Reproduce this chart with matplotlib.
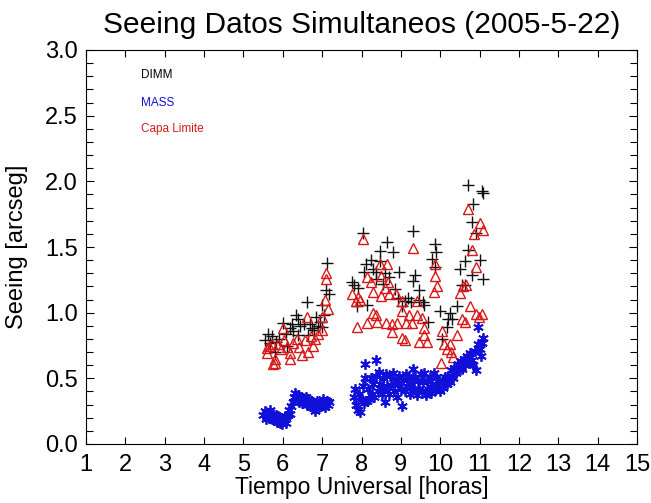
import matplotlib
matplotlib.use("Agg")
import matplotlib.pyplot as plt
from matplotlib.ticker import MultipleLocator

plt.rcParams['font.family'] = ['Liberation Sans', 'DejaVu Sans']

# DIMM seeing (black +)
dimm_t = [5.55, 5.62, 5.68, 5.72, 5.80, 5.83, 5.90, 6.01, 6.07, 6.10, 6.18, 6.23,
          6.27, 6.33, 6.38, 6.39, 6.45, 6.55, 6.61, 6.65, 6.69, 6.75, 6.80, 6.84,
          6.90, 6.95, 6.99, 6.99, 7.05, 7.09, 7.13, 7.18,
          7.75, 7.82, 7.88, 7.90, 8.05, 8.06, 8.11, 8.13, 8.23, 8.30, 8.38, 8.38,
          8.47, 8.47, 8.55, 8.60, 8.64, 8.69, 8.79, 8.85, 8.93, 8.96, 9.02, 9.10,
          9.18, 9.25, 9.30, 9.32, 9.36, 9.47, 9.45, 9.55, 9.60, 9.70, 9.78, 9.87,
          9.87, 9.89, 9.99, 10.04, 10.16, 10.20, 10.24, 10.30, 10.42, 10.50, 10.55,
          10.63, 10.63, 10.71, 10.71, 10.80, 10.82, 10.84, 10.92, 11.01, 11.05,
          11.09, 11.09]
dimm_v = [0.79, 0.84, 0.77, 0.82, 0.70, 0.78, 0.80, 0.92, 0.84, 0.75, 0.88, 0.91,
          0.86, 0.98, 0.95, 0.83, 0.90, 0.91, 1.08, 0.83, 0.91, 0.88, 0.87, 0.97,
          0.90, 0.93, 1.06, 0.89, 0.98, 1.17, 1.38, 1.14,
          1.23, 1.21, 1.05, 1.19, 1.61, 1.31, 1.37, 1.06, 1.40, 1.33, 1.31, 1.26,
          1.47, 1.39, 1.22, 1.30, 1.54, 1.27, 1.46, 1.18, 1.11, 1.31, 1.05, 1.09,
          1.11, 1.08, 1.24, 1.62, 1.29, 1.17, 1.10, 1.08, 1.06, 0.93, 1.41, 1.52,
          1.35, 1.46, 1.01, 0.80, 0.89, 0.95, 1.00, 0.95, 1.05, 1.33, 1.21,
          1.39, 1.21, 1.48, 1.97, 1.29, 1.69, 1.83, 1.61, 1.40, 1.93,
          1.91, 1.26]

# MASS seeing (blue *)
mass_t = [5.50, 5.55, 5.58, 5.62, 5.65, 5.68, 5.72, 5.75, 5.78, 5.82, 5.85, 5.88,
          5.92, 5.95, 5.98, 6.02, 6.05, 6.08, 6.12, 6.15, 6.18, 6.22, 6.25, 6.28,
          6.32, 6.35, 6.38, 6.42, 6.45, 6.48, 6.52, 6.55, 6.58, 6.62, 6.65, 6.68,
          6.72, 6.75, 6.78, 6.82, 6.85, 6.88, 6.92, 6.95, 6.98, 7.02, 7.05, 7.08,
          7.12, 7.15, 7.18,
          7.80, 7.83, 7.86, 7.90, 7.93, 7.96, 8.00, 8.03, 8.06, 8.09, 8.10, 8.13,
          8.17, 8.20, 8.23, 8.26, 8.30, 8.33, 8.36, 8.38, 8.42, 8.45, 8.48, 8.52,
          8.55, 8.58, 8.60, 8.63, 8.66, 8.70, 8.73, 8.76, 8.80, 8.83, 8.86, 8.90,
          8.93, 8.96, 9.00, 9.04, 9.06, 9.10, 9.13, 9.16, 9.20, 9.23, 9.26, 9.30,
          9.33, 9.36, 9.40, 9.43, 9.46, 9.50, 9.53, 9.56, 9.60, 9.63, 9.66, 9.70,
          9.73, 9.76, 9.80, 9.83, 9.86, 9.90, 9.93, 9.96, 10.00, 10.04, 10.08,
          10.12, 10.16, 10.20, 10.24, 10.28, 10.32, 10.36, 10.40, 10.44, 10.48,
          10.52, 10.56, 10.60, 10.64, 10.68, 10.72, 10.76, 10.80, 10.84, 10.88,
          10.92, 10.95, 10.97, 11.00, 11.04, 11.07, 11.09]
mass_v = [0.22, 0.25, 0.19, 0.23, 0.20, 0.26, 0.19, 0.23, 0.18, 0.22, 0.17, 0.21,
          0.16, 0.20, 0.15, 0.18, 0.21, 0.16, 0.22, 0.26, 0.23, 0.29, 0.32, 0.36,
          0.39, 0.34, 0.37, 0.32, 0.36, 0.31, 0.35, 0.32, 0.36, 0.30, 0.34, 0.29,
          0.33, 0.28, 0.32, 0.25, 0.30, 0.33, 0.28, 0.32, 0.29, 0.34, 0.31, 0.28,
          0.33, 0.30, 0.32,
          0.36, 0.42, 0.30, 0.26, 0.38, 0.24, 0.34, 0.44, 0.31, 0.61, 0.50, 0.33,
          0.42, 0.34, 0.50, 0.38, 0.46, 0.36, 0.64, 0.52, 0.40, 0.55, 0.46, 0.38,
          0.50, 0.42, 0.32, 0.53, 0.44, 0.38, 0.52, 0.45, 0.54, 0.40, 0.48, 0.36,
          0.46, 0.52, 0.42, 0.29, 0.49, 0.40, 0.53, 0.44, 0.50, 0.38, 0.46, 0.57,
          0.42, 0.51, 0.37, 0.48, 0.42, 0.53, 0.40, 0.47, 0.54, 0.37, 0.48, 0.42,
          0.51, 0.39, 0.46, 0.54, 0.41, 0.51, 0.44, 0.49, 0.40, 0.47, 0.43,
          0.51, 0.46, 0.52, 0.47, 0.56, 0.50, 0.58, 0.54, 0.61, 0.56,
          0.63, 0.57, 0.65, 0.60, 0.67, 0.62, 0.69, 0.64, 0.60, 0.71,
          0.56, 0.76, 0.89, 0.72, 0.67, 0.77, 0.81]

# Capa Limite (red open triangles)
capa_t = [5.59, 5.59, 5.65, 5.72, 5.76, 5.80, 5.80, 5.89, 5.95, 6.03, 6.01, 6.10,
          6.18, 6.18, 6.25, 6.35, 6.42, 6.48, 6.57, 6.61, 6.65, 6.72, 6.77, 6.83,
          6.90, 6.99, 7.00, 7.07, 7.11, 7.11, 7.16,
          7.75, 7.85, 7.88, 7.90, 7.95, 8.05, 8.13, 8.13, 8.25, 8.30, 8.30, 8.38,
          8.40, 8.47, 8.50, 8.50, 8.60, 8.62, 8.64, 8.67, 8.70, 8.77, 8.78, 8.88,
          8.90, 9.02, 9.03, 9.04, 9.10, 9.12, 9.20, 9.28, 9.32, 9.40, 9.42, 9.45,
          9.53, 9.60, 9.60, 9.66, 9.83, 9.87, 9.88, 9.91, 10.02, 10.04, 10.10,
          10.17, 10.24, 10.28, 10.32, 10.42, 10.50, 10.55, 10.59, 10.62, 10.66,
          10.71, 10.76, 10.80, 10.86, 10.90, 10.92, 10.98, 11.01, 11.05, 11.09]
capa_v = [0.73, 0.69, 0.75, 0.76, 0.61, 0.65, 0.62, 0.76, 0.72, 0.79, 0.88, 0.74,
          0.69, 0.65, 0.77, 0.80, 0.74, 0.68, 0.79, 0.97, 0.70, 0.82, 0.75, 0.80,
          0.84, 0.87, 0.97, 1.10, 1.30, 1.26, 1.03,
          1.14, 1.09, 0.89, 1.12, 1.10, 1.56, 1.27, 0.92, 1.23, 1.16, 1.00, 0.98,
          0.93, 1.37, 1.28, 1.13, 1.19, 0.92, 1.37, 1.23, 1.14, 0.85, 0.91, 1.14,
          0.92, 1.09, 0.81, 1.01, 0.79, 0.92, 0.98, 0.92, 1.49, 1.09, 0.98, 0.78,
          0.96, 0.88, 0.83, 0.78, 1.16, 1.37, 1.28, 1.20, 0.62, 0.86, 0.76,
          0.72, 0.76, 0.70, 0.66, 0.83, 1.15, 0.95, 1.20, 0.93, 1.21,
          1.79, 1.05, 1.48, 1.60, 0.99, 1.35, 0.97, 1.68, 0.99, 1.63]

x_ticks = list(range(1, 16))

fig = plt.figure(figsize=(6.51, 5.03), dpi=100)
ax = fig.add_axes([86 / 651, 1 - 444 / 503, 551 / 651, 394 / 503])

ax.plot(dimm_t, dimm_v, ls='none', marker='+', ms=8, mew=1.0, color='#111111')
ax.plot(capa_t, capa_v, ls='none', marker='^', ms=7.5, mew=1.0, mfc='none', mec='#d81818')
ax.plot(mass_t, mass_v, ls='none', marker=(6, 2, 0), ms=7.5, mew=1.3, color='#1010d8')

ax.set_xlim(1, 15)
ax.set_ylim(0, 3)
ax.set_xticks(x_ticks)
ax.yaxis.set_major_locator(MultipleLocator(0.5))
ax.yaxis.set_minor_locator(MultipleLocator(0.1))
ax.yaxis.set_major_formatter(plt.FormatStrFormatter('%.1f'))
ax.tick_params(which='both', direction='in', top=True, right=True, length=5, width=0.8,
               labelsize=17, pad=6)
ax.tick_params(axis='x', which='both', pad=7)
ax.tick_params(axis='y', which='major', length=6)
for s in ax.spines.values():
    s.set_linewidth(0.8)

ax.set_xlabel('Tiempo Universal [horas]', fontsize=16.5, labelpad=0)
ax.set_ylabel('Seeing [arcseg]', fontsize=17, labelpad=12)
ax.set_title('Seeing Datos Simultaneos (2005-5-22)', fontsize=21.5, pad=12)

ax.text(0.1, 0.937, 'DIMM', transform=ax.transAxes, fontsize=8.5, color='black', va='center')
ax.text(0.1, 0.866, 'MASS', transform=ax.transAxes, fontsize=8.5, color='#1010d8', va='center')
ax.text(0.1, 0.800, 'Capa Limite', transform=ax.transAxes, fontsize=8.5, color='#d81818', va='center')

fig.savefig('out.png', dpi=100)
